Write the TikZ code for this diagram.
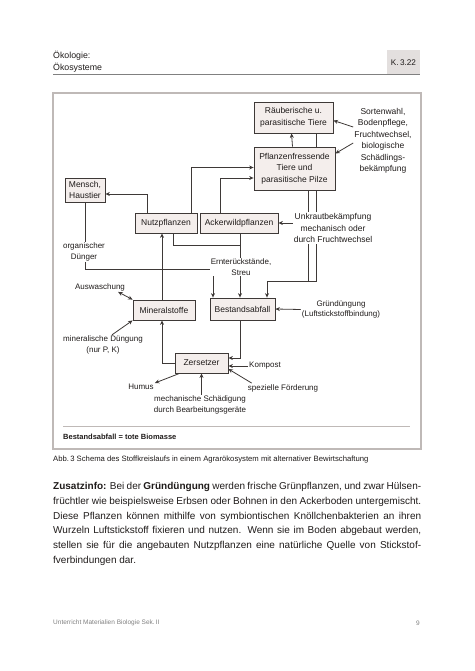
\documentclass[tikz,border=0pt]{standalone}
\usepackage{fontspec}
\setmainfont{Liberation Sans}
\usetikzlibrary{arrows.meta}

\definecolor{rahmen}{HTML}{BFB9B7}
\definecolor{kasten}{HTML}{F4EEEC}
\definecolor{linie}{HTML}{3E3937}
\definecolor{schrift}{HTML}{1F1B1A}
\definecolor{kopf}{HTML}{E3DFDE}

\tikzset{
  box/.style={draw=linie, fill=kasten, line width=0.8pt, align=center, text=schrift,
    font=\fontsize{8.5}{11.5}\selectfont, inner sep=2pt},
  lab/.style={align=center, text=schrift, font=\fontsize{8.5}{11.5}\selectfont, inner sep=1pt},
  klein/.style={lab, font=\fontsize{8}{10.5}\selectfont},
  pf/.style={draw=linie, line width=0.8pt, -{Stealth[length=4.5pt,width=4pt]}},
  ln/.style={draw=linie, line width=0.8pt}
}

\begin{document}
\begin{tikzpicture}[x=1pt,y=-1pt]

\useasboundingbox (0,0) rectangle (474,671);

% Kopfzeile
\node[anchor=north west, align=left, inner sep=0, text=schrift,
  font=\fontsize{8.8}{11.5}\selectfont] (titel) at (53,51) {Ökologie:\\Ökosysteme};
\node[fill=kopf, minimum width=33pt, minimum height=25pt, inner sep=0, text=schrift,
  font=\fontsize{8.2}{10}\selectfont] (kapitel) at (403.5,62.5) {K.\,3.22};
\draw[gray, line width=1pt] (53,75) -- (420,75);

% Rahmen
\draw[rahmen, line width=1.5pt] (53,93) rectangle (421,449);

% Kaesten
\node[box, minimum width=79pt, minimum height=31pt] (raeuber) at (293.5,117.5) {Räuberische u.\\parasitische Tiere};
\node[box, minimum width=81pt, minimum height=43pt] (pflfr) at (294.5,168.5) {Pflanzenfressende\\Tiere und\\parasitische Pilze};
\node[lab] (massn) at (383,141) {Sortenwahl,\\Bodenpflege,\\Fruchtwechsel,\\biologische\\Schädlings-\\bekämpfung};
\node[box, minimum width=40pt, minimum height=24pt] (mensch) at (85,190) {Mensch,\\Haustier};
\node[box, minimum width=62pt, minimum height=20pt] (nutz) at (166,223) {Nutzpflanzen};
\node[box, minimum width=78pt, minimum height=20pt] (acker) at (239,223) {Ackerwildpflanzen};
\node[box, minimum width=62pt, minimum height=20pt] (mineral) at (164,310) {Mineralstoffe};
\node[box, minimum width=65pt, minimum height=22pt] (bestand) at (242.5,309) {Bestandsabfall};
\node[box, minimum width=53pt, minimum height=20pt] (zers) at (201.5,363) {Zersetzer};

\coordinate (k1) at (213,269);
\coordinate (k2) at (240,245);
\coordinate (k3) at (267,281);

% Nahrungskette
\draw[pf] ([xshift=-2pt]pflfr.north) -- ([xshift=-2pt]raeuber.south);
\draw[ln] ([xshift=23pt]raeuber.south) -- ([xshift=22pt]pflfr.north);
\draw[ln] ([xshift=22pt]pflfr.south) |- (k3);
\draw[ln] ([xshift=13.5pt]pflfr.south) -- ++(0,91);
\draw[pf] (k3) -- (k3 |- bestand.north);
\draw[pf] ([xshift=-19pt]nutz.north) |- ([yshift=-4pt]mensch.east);
\draw[pf] ([xshift=25pt]nutz.north) |- ([yshift=1pt]pflfr.west);
\draw[pf] ([xshift=-19pt]acker.north) |- ([yshift=-9.5pt]pflfr.west);

% Massnahmen
\draw[pf] ([yshift=14pt]massn.west) -- ([yshift=-3pt]raeuber.east);
\draw[pf] ([yshift=-2pt]massn.west) -- ([yshift=15pt]pflfr.east);

% tote Biomasse
\draw[pf] (mensch.south) |- (k1) -- (k1 |- bestand.north);
\draw[ln] ([xshift=7pt]nutz.south) |- (k2);
\draw[pf] (k2 |- acker.south) -- (k2 |- bestand.north);

\node[lab, fill=white] (unkraut) at (333,228) {Unkrautbekämpfung\\mechanisch oder\\durch Fruchtwechsel};
\node[klein, fill=white] (duenger) at (84,252) {organischer\\Dünger};
\node[klein, fill=white] (ernte) at (241,267) {Ernterückstände,\\Streu};
\draw[pf] (unkraut.west |- acker.east) -- (acker.east);

% Mineralstoffe
\draw[pf] ([xshift=-2pt]mineral.north) -- ([xshift=-2pt]mineral.north |- nutz.south);
\node[klein] (auswasch) at (100,287) {Auswaschung};
\draw[pf, {Stealth[length=4.5pt,width=4pt]}-{Stealth[length=4.5pt,width=4pt]}] (mineral.north west) -- ([xshift=-8pt]auswasch.south east);
\node[klein] (mindueng) at (103,345) {mineralische Düngung\\(nur P, K)};
\draw[pf] ([xshift=9pt]mindueng.north) -- (mineral.south west);
\node[klein] (gruen) at (341,309.5) {Gründüngung\\(Luftstickstoffbindung)};
\draw[pf] (gruen.west) -- (bestand.east);

% Zersetzer
\draw[pf] (zers.west) -| ([xshift=-2pt]mineral.south);
\draw[pf] (k2 |- bestand.south) |- ([yshift=5pt]zers.east);
\node[klein] (kompost) at (265,366) {Kompost};
\draw[pf] (kompost.west) -- (zers.east |- kompost.west);
\node[klein] (foerd) at (283,388) {spezielle Förderung};
\draw[pf] ([xshift=5pt]foerd.north west) -- ([yshift=-6pt]zers.east);
\node[klein] (humus) at (141,387) {Humus};
\draw[pf] ([xshift=5pt]zers.south west) -- (humus.north east);
\node[klein] (mech) at (200,405) {mechanische Schädigung\\durch Bearbeitungsgeräte};
\draw[pf] (mech.north -| zers.south) -- (zers.south);

% Legende
\draw[rahmen, line width=0.8pt] (63,426) -- (410,426);
\node[anchor=west, inner sep=0, text=schrift, font=\fontsize{7.5}{9}\selectfont\bfseries] (legende) at (63,437) {Bestandsabfall = tote Biomasse};

% Bildunterschrift
\node[anchor=west, inner sep=0, text=schrift, font=\fontsize{7.7}{9}\selectfont] (unterschrift) at (53,460)
  {Abb.\,3 Schema des Stoffkreislaufs in einem Agrarökosystem mit alternativer Bewirtschaftung};

% Text
\node[anchor=north west, inner sep=0, text width=368pt, align=justify, text=schrift,
  font=\fontsize{10}{14.8}\selectfont] (absatz) at (53,482)
  {\textbf{Zusatzinfo:} Bei der \textbf{Gründüngung} werden frische Grünpflanzen, und zwar
  Hülsenfrüchtler wie beispielsweise Erbsen oder Bohnen in den Ackerboden untergemischt.
  Diese Pflanzen können mithilfe von symbiontischen Knöllchenbakterien an ihren Wurzeln
  Luftstickstoff fixieren und nutzen. Wenn sie im Boden abgebaut werden, stellen sie für
  die angebauten Nutzpflanzen eine natürliche Quelle von Stickstoffverbindungen dar.};

% Fusszeile
\node[anchor=west, inner sep=0, text=gray, font=\fontsize{6.5}{8}\selectfont] (fuss) at (53,623) {Unterricht Materialien Biologie Sek.\,II};
\node[inner sep=0, text=gray, font=\fontsize{6.5}{8}\selectfont] (seite) at (418,623) {9};

\end{tikzpicture}
\end{document}
